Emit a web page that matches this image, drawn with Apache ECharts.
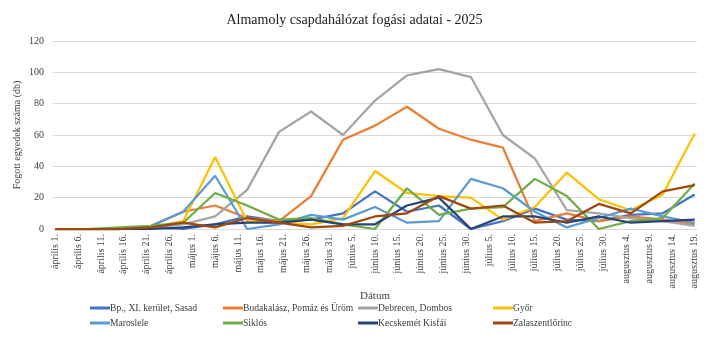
<!DOCTYPE html>
<html>
<head>
<meta charset="utf-8">
<script src="https://cdn.jsdelivr.net/npm/echarts@6/dist/echarts.min.js"></script>
<style>
html,body{margin:0;padding:0;background:#fff;}
#wrap{position:absolute;left:2px;top:2px;width:703px;height:333px;border:1px solid #d9d9d9;}
#c{position:absolute;left:-3px;top:-3px;width:709px;height:339px;}
</style>
</head>
<body>
<div id="wrap"><div id="c"></div></div>
<script>
// Axis: daily categories, labels shown every 5 days
const monthNames = ['április', 'május', 'június', 'július', 'augusztus'];
const monthLengths = [30, 31, 30, 31, 31];
const firstDay = 1;          // április 1.
const dayCount = 141;        // április 1. – augusztus 19.

// Weekly sampling dates (category labels)
const sampleDates = ['április 1.', 'április 8.', 'április 15.', 'április 22.', 'április 29.',
  'május 6.', 'május 13.', 'május 20.', 'május 27.', 'június 3.', 'június 10.',
  'június 17.', 'június 24.', 'július 1.', 'július 8.', 'július 15.', 'július 22.',
  'július 29.', 'augusztus 5.', 'augusztus 12.', 'augusztus 19.'];

const seriesNames = ['Bp., XI. kerület, Sasad', 'Budakalász, Pomáz és Üröm', 'Debrecen, Dombos', 'Győr',
  'Maroslele', 'Siklós', 'Kecskemét Kisfái', 'Zalaszentlőrinc'];

const bpSasad      = [0, 0, 0, 1, 0, 3, 8, 5, 6, 10, 24, 11, 15, 0, 5, 13, 6, 5, 9, 10, 22];
const budakalasz   = [0, 0, 0, 2, 11, 15, 7, 5, 21, 57, 66, 78, 64, 57, 52, 5, 10, 5, 8, 6, 3];
const debrecen     = [0, 0, 0, 1, 3, 8, 25, 62, 75, 60, 82, 98, 102, 97, 60, 45, 12, 10, 7, 5, 2];
const gyor         = [0, 0, 0, 1, 5, 46, 5, 4, 3, 7, 37, 23, 21, 20, 6, 14, 36, 19, 12, 22, 61];
const maroslele    = [0, 0, 0, 2, 11, 34, 0, 3, 9, 6, 14, 4, 5, 32, 26, 11, 1, 7, 13, 8, 4];
const siklos       = [0, 0, 1, 2, 4, 23, 15, 6, 7, 3, 0, 26, 9, 13, 14, 32, 21, 0, 5, 7, 29];
const kecskemet    = [0, 0, 0, 0, 1, 3, 4, 4, 6, 3, 3, 15, 20, 0, 8, 8, 4, 8, 4, 5, 6];
const zalaszentl   = [0, 0, 0, 1, 4, 1, 7, 4, 1, 2, 8, 10, 21, 13, 15, 4, 5, 16, 10, 24, 28];

const seriesValues = [bpSasad, budakalasz, debrecen, gyor, maroslele, siklos, kecskemet, zalaszentl];
const colors = ['#4472C4', '#ED7D31', '#A5A5A5', '#FFC000', '#5B9BD5', '#70AD47', '#264478', '#9E480E'];

const yTicks = [0, 20, 40, 60, 80, 100, 120];

// build daily categories
const categories = [];
{
  let m = 0, d = firstDay;
  for (let i = 0; i < dayCount; i++) {
    categories.push(monthNames[m] + ' ' + d + '.');
    d++;
    if (d > monthLengths[m]) { d = 1; m++; }
  }
}

const FONT = '"Liberation Serif", "Times New Roman", serif';
const chart = echarts.init(document.getElementById('c'));

const series = seriesNames.map((name, i) => ({
  name: name,
  type: 'line',
  symbol: 'none',
  connectNulls: true,
  lineStyle: { width: 2.25, color: colors[i] },
  itemStyle: { color: colors[i] },
  data: sampleDates.map((dt, k) => [categories.indexOf(dt), seriesValues[i][k]])
}));

const legendPos = [
  [90, 303], [223, 303], [358, 303], [493, 303],
  [90, 318], [223, 318], [358, 318], [493, 318]
];
const legends = seriesNames.map((name, i) => ({
  data: [name],
  left: legendPos[i][0],
  top: legendPos[i][1],
  padding: 0,
  icon: 'rect',
  itemWidth: 20,
  itemHeight: 3,
  itemGap: 0,
  selectedMode: false,
  textStyle: { fontFamily: FONT, fontSize: 9.6, color: '#404040', padding: [0, 0, 0, -5] }
}));

chart.setOption({
  animation: false,
  backgroundColor: '#fff',
  title: {
    text: 'Almamoly csapdahálózat fogási adatai - 2025',
    left: 'center',
    top: 8,
    textStyle: { fontFamily: FONT, fontSize: 14, fontWeight: 'normal', color: '#202020' }
  },
  legend: legends,
  grid: { left: 53, right: 12, top: 41, bottom: 110, containLabel: false },
  xAxis: {
    type: 'category',
    data: categories,
    boundaryGap: true,
    name: 'Dátum',
    nameLocation: 'middle',
    nameGap: 62,
    nameMoveOverlap: false,
    nameTextStyle: { fontFamily: FONT, fontSize: 11, color: '#404040', fontWeight: 'normal' },
    axisLine: { lineStyle: { color: '#d9d9d9' } },
    axisTick: { show: false },
    axisLabel: {
      interval: 4,
      rotate: 90,
      margin: 5,
      fontFamily: FONT,
      fontSize: 10,
      color: '#404040'
    }
  },
  yAxis: {
    type: 'value',
    min: yTicks[0],
    max: yTicks[yTicks.length - 1],
    interval: yTicks[1] - yTicks[0],
    name: 'Fogott egyedek száma (db)',
    nameLocation: 'middle',
    nameGap: 31,
    nameMoveOverlap: false,
    nameTextStyle: { fontFamily: FONT, fontSize: 10, color: '#404040' },
    axisLine: { show: false },
    axisTick: { show: false },
    splitLine: { lineStyle: { color: '#d9d9d9' } },
    axisLabel: { fontFamily: FONT, fontSize: 10, color: '#404040', margin: 9 }
  },
  series: series
});
</script>
</body>
</html>
